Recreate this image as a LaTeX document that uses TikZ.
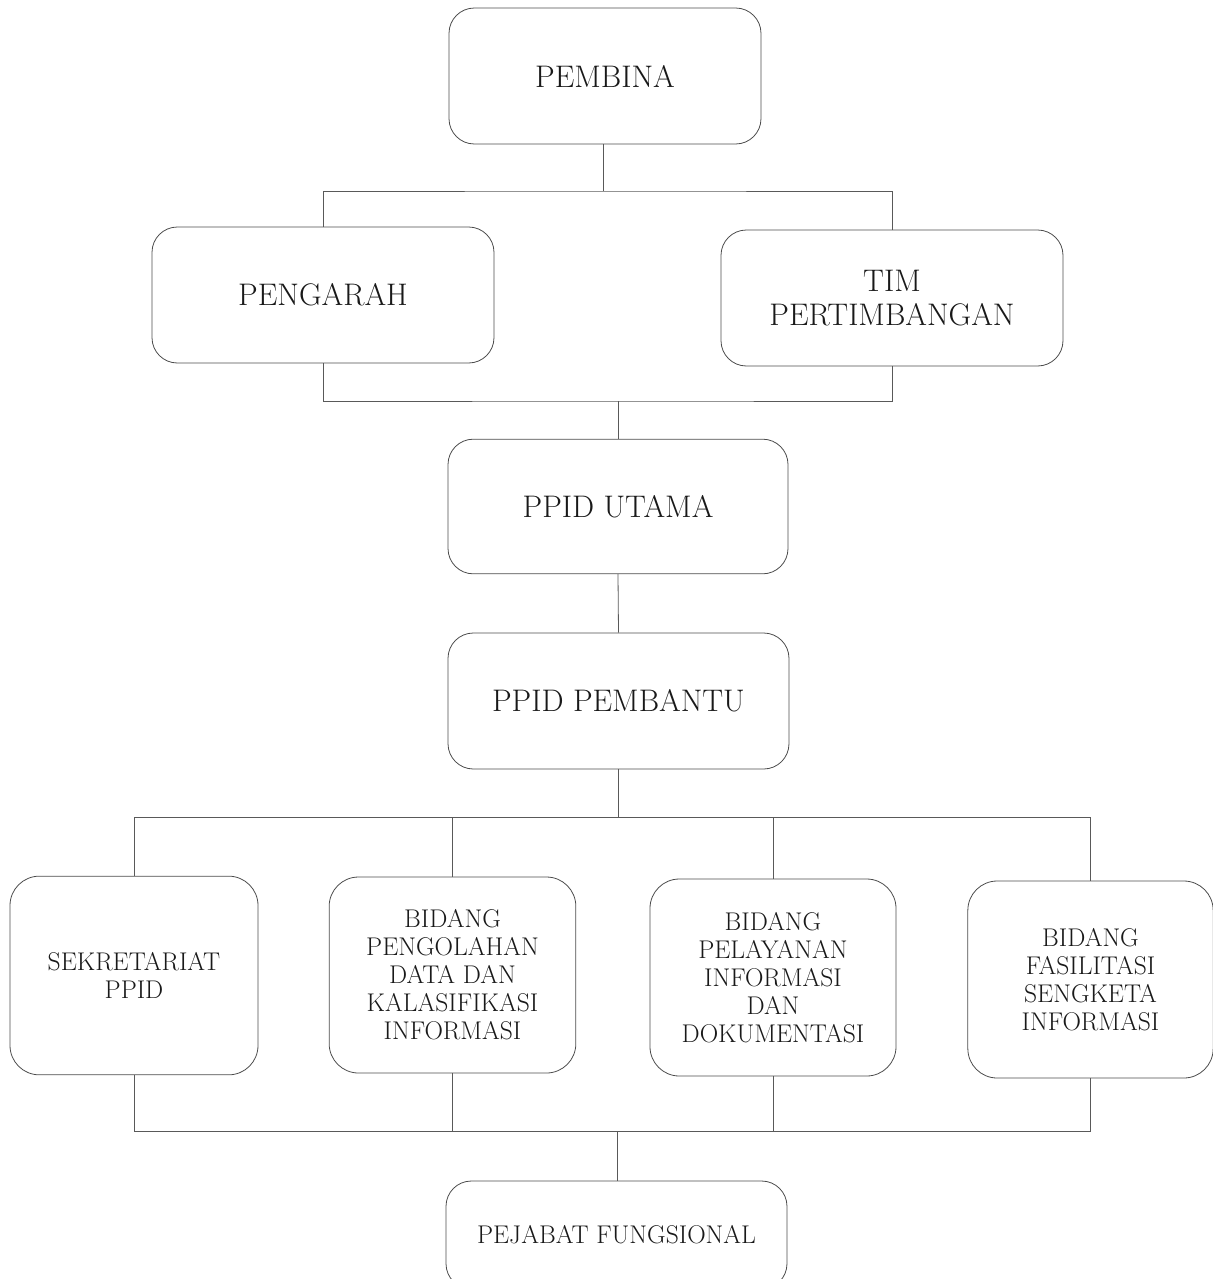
\documentclass[tikz,border=0pt]{standalone}
\begin{document}
\begin{tikzpicture}[x=0.75pt,y=-0.75pt,
  box/.style={draw=black!70, line width=0.6pt, rounded corners=19pt, align=center,
    inner sep=0pt, text=black!90, font=\fontsize{23.4}{25.5}\selectfont},
  sbox/.style={box, rounded corners=22pt, font=\fontsize{19.2}{21}\selectfont},
  conn/.style={draw=black!65, line width=0.6pt}]
\useasboundingbox (0,0) rectangle (1213,1279);
\clip (0,0) rectangle (1213,1279);
\node[box, minimum width=234pt, minimum height=102pt] (pembina) at (605,76) {PEMBINA};
\node[box, minimum width=256.5pt, minimum height=102pt] (peng) at (323,295) {PENGARAH};
\node[box, minimum width=256.5pt, minimum height=102pt] (tim) at (892,298) {TIM\\PERTIMBANGAN};
\node[box, minimum width=255pt, minimum height=101pt] (utama) at (618,506.5) {PPID UTAMA};
\node[box, minimum width=255.75pt, minimum height=102pt] (pembantu) at (618.5,701) {PPID PEMBANTU};
\node[sbox, minimum width=186pt, minimum height=149pt] (sek) at (134,975.5) {SEKRETARIAT\\PPID};
\node[sbox, minimum width=185pt, minimum height=147pt] (olah) at (452.5,975) {BIDANG\\PENGOLAHAN\\DATA DAN\\KALASIFIKASI\\INFORMASI};
\node[sbox, minimum width=184.5pt, minimum height=147.75pt] (layan) at (773,977.5) {BIDANG\\PELAYANAN\\INFORMASI\\DAN\\DOKUMENTASI};
\node[sbox, minimum width=184pt, minimum height=147.75pt] (fas) at (1090.5,979.5) {BIDANG\\FASILITASI\\SENGKETA\\INFORMASI};
\node[sbox, minimum width=255.75pt, minimum height=81pt, rounded corners=19pt] (pej) at (616.5,1235) {PEJABAT FUNGSIONAL};
\coordinate (b1) at (603,191);
\coordinate (b2) at (618,401);
\coordinate (b3) at (618,817);
\coordinate (b4) at (617,1131);
\draw[conn] (pembina.south -| b1) -- (b1);
\draw[conn] (peng.north) |- (b1) -| (tim.north);
\draw[conn] (peng.south) |- (b2) -| (tim.south);
\draw[conn] (b2) -- (utama.north -| b2);
\draw[conn] (utama.south) -- (pembantu.north);
\draw[conn] (pembantu.south -| b3) -- (b3);
\draw[conn] (sek.north) |- (b3) -| (fas.north);
\draw[conn] (olah.north) -- (olah.north |- b3);
\draw[conn] (layan.north) -- (layan.north |- b3);
\draw[conn] (sek.south) |- (b4) -| (fas.south);
\draw[conn] (olah.south) -- (olah.south |- b4);
\draw[conn] (layan.south) -- (layan.south |- b4);
\draw[conn] (b4) -- (pej.north -| b4);
\end{tikzpicture}
\end{document}
